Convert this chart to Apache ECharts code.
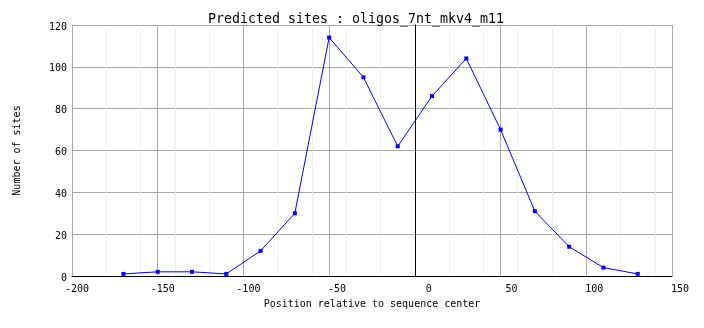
<!DOCTYPE html>
<html>
<head>
<meta charset="utf-8">
<script src="https://cdn.jsdelivr.net/npm/echarts@6/dist/echarts.min.js"></script>
<style>html,body{margin:0;padding:0;background:#fff}#c{width:704px;height:328px}</style>
</head>
<body>
<div id="c"></div>
<script>
const titleText = "Predicted sites : oligos_7nt_mkv4_m11";
const xName = "Position relative to sequence center";
const yName = "Number of sites";
const positions = [-170, -150, -130, -110, -90, -70, -50, -30, -10, 10, 30, 50, 70, 90, 110, 130];
const sites = [1, 2, 2, 1, 12, 30, 114, 95, 62, 86, 104, 70, 31, 14, 4, 1];
const xMin = -200, xMax = 150, xStep = 50, xMinorStep = 20;
const yMin = 0, yMax = 120, yStep = 20;

const mono = "DejaVu Sans Mono";
const chart = echarts.init(document.getElementById('c'), null, {renderer: 'canvas'});
chart.setOption({
  animation: false,
  backgroundColor: '#fff',
  title: {
    text: titleText, left: 351, top: 8, textAlign: 'center',
    textStyle: {fontFamily: mono, fontSize: 13.3, fontWeight: 'normal', color: '#000'}
  },
  grid: {left: 72, right: 32, top: 25, bottom: 52, containLabel: false},
  xAxis: [
    {
      type: 'value', min: xMin, max: xMax, interval: xStep,
      name: xName, nameLocation: 'middle', nameGap: 23,
      nameTextStyle: {fontFamily: mono, fontSize: 10, color: '#000'},
      axisLine: {show: true, onZero: false, lineStyle: {color: '#000', width: 1}},
      axisTick: {show: false},
      axisLabel: {fontFamily: mono, fontSize: 10, color: '#000', margin: 8, align: 'right', padding: [0, -17, 0, 0]},
      splitLine: {show: true, lineStyle: {color: '#aaaaaa', width: 1}},
      z: 3
    },
    {
      type: 'value', min: xMin, max: xMax, interval: xMinorStep, show: true,
      axisLine: {show: false}, axisTick: {show: false}, axisLabel: {show: false},
      splitLine: {show: true, lineStyle: {color: '#efefef', width: 1}},
      z: 1
    }
  ],
  yAxis: {
    type: 'value', min: yMin, max: yMax, interval: yStep,
    name: yName, nameLocation: 'middle', nameGap: 50, nameRotate: 90,
    nameTextStyle: {fontFamily: mono, fontSize: 10, color: '#000'},
    axisLine: {show: true, lineStyle: {color: '#000', width: 1}},
    axisTick: {show: false},
    axisLabel: {fontFamily: mono, fontSize: 10, color: '#000', margin: 5, verticalAlign: 'top', padding: [-3, 0, 0, 0]},
    splitLine: {show: true, lineStyle: {color: '#aaaaaa', width: 1}}
  },
  series: [{
    type: 'line',
    data: positions.map((p, i) => [p, sites[i]]),
    symbol: 'rect', symbolSize: 4, showAllSymbol: true,
    lineStyle: {color: '#0000ff', width: 1},
    itemStyle: {color: '#0000ff'},
    z: 5,
    markLine: {
      silent: true, symbol: 'none', label: {show: false},
      lineStyle: {color: '#000', width: 1, type: 'solid'},
      data: [{xAxis: 0}]
    }
  }]
});
</script>
</body>
</html>
